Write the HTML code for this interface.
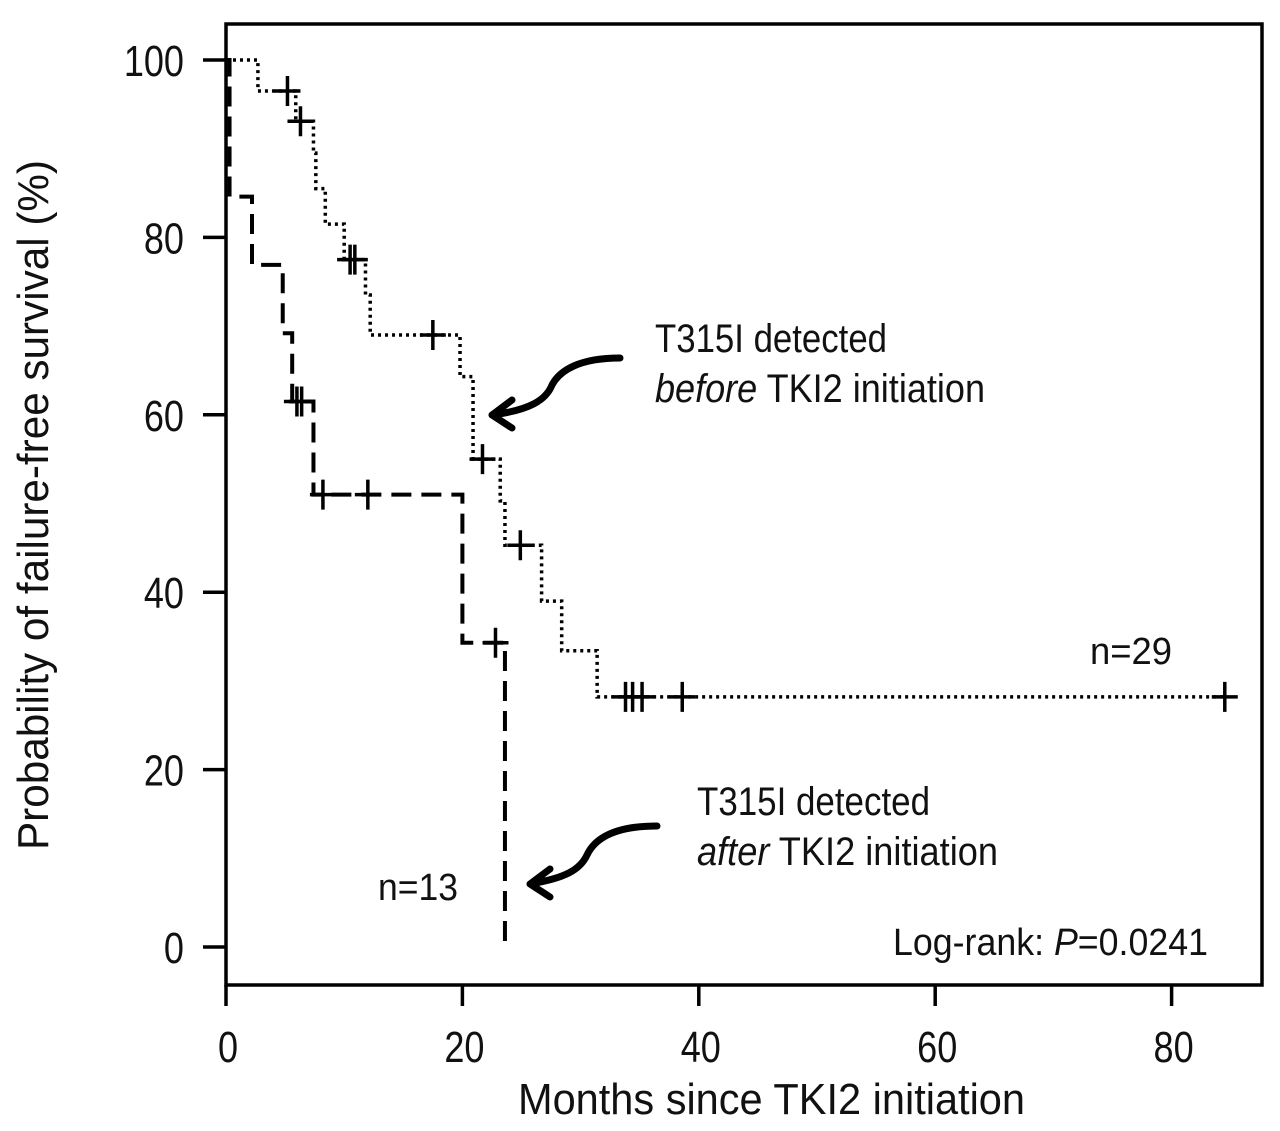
<!DOCTYPE html>
<html><head><meta charset="utf-8"><style>
html,body{margin:0;padding:0;background:#fff;}
svg{display:block;}
text{font-family:"Liberation Sans",sans-serif;fill:#111;}
</style></head><body>
<svg id="chart" width="1280" height="1131" viewBox="0 0 1280 1131" xmlns="http://www.w3.org/2000/svg">
<g id="axes"></g>
<g id="series"></g>
<g id="annot">
  <text x="655" y="352" font-size="40" textLength="232" lengthAdjust="spacingAndGlyphs">T315I detected</text>
  <text x="655" y="402" font-size="40" textLength="330" lengthAdjust="spacingAndGlyphs"><tspan font-style="italic">before</tspan> TKI2 initiation</text>
  <text x="697" y="815" font-size="40" textLength="233" lengthAdjust="spacingAndGlyphs">T315I detected</text>
  <text x="697" y="865" font-size="40" textLength="301" lengthAdjust="spacingAndGlyphs"><tspan font-style="italic">after</tspan> TKI2 initiation</text>
  <text x="1090" y="664" font-size="38" textLength="82" lengthAdjust="spacingAndGlyphs">n=29</text>
  <text x="378" y="900" font-size="38" textLength="80" lengthAdjust="spacingAndGlyphs">n=13</text>
  <text x="893" y="955" font-size="38" textLength="315" lengthAdjust="spacingAndGlyphs">Log-rank: <tspan font-style="italic">P</tspan>=0.0241</text>
  <path d="M620,358 C580,358 560,370 552,385 C546,400 530,410 492,415 M492,415 L512,400 M492,415 L512,428" fill="none" stroke="#000" stroke-width="7" stroke-linecap="round"/>
  <path d="M657,826 C615,826 595,838 587,855 C580,870 565,878 530,884 M530,884 L550,869 M530,884 L550,897" fill="none" stroke="#000" stroke-width="7" stroke-linecap="round"/>
</g>
</svg>
<script>
// Data
const beforeTimes = [0, 2.7, 5.9, 7.4, 7.6, 8.4, 10.0, 11.8, 12.2, 19.8, 20.9, 23.2, 23.6, 26.7, 28.4, 31.4];
const beforeSurv  = [100, 96.5, 93.1, 89.5, 85.5, 81.5, 77.5, 73.5, 69.0, 64.3, 55.0, 50.3, 45.3, 39.0, 33.4, 28.2];
const beforeEnd = 84.5;
const beforeCensor = [5.2, 6.3, 10.5, 10.9, 17.5, 21.7, 24.9, 33.8, 34.4, 35.2, 38.6, 84.5];
const afterTimes = [0, 0.3, 2.2, 4.8, 5.6, 7.4, 20.0, 23.6];
const afterSurv  = [100, 84.6, 76.9, 69.2, 61.5, 51.0, 34.3, 0];
const afterEnd = 23.6;
const afterCensor = [6.0, 6.4, 8.2, 12.0, 22.8];
const xTicks = [0, 20, 40, 60, 80];
const yTicks = [0, 20, 40, 60, 80, 100];

const NS = "http://www.w3.org/2000/svg";
const X = m => 226 + m * 11.82;
const Y = p => 947 - p * 8.87;
function mk(tag, attrs, parent){ const e=document.createElementNS(NS,tag); for(const k in attrs) e.setAttribute(k,attrs[k]); parent.appendChild(e); return e; }
const axes = document.getElementById('axes');
const series = document.getElementById('series');

const frame = mk('rect',{x:226,y:24,width:1036,height:961,fill:'none',stroke:'#000','stroke-width':3.5},axes);


yTicks.forEach(v=>{
  const t = mk('line',{x1:203,x2:226,y1:Y(v),y2:Y(v),stroke:'#000','stroke-width':3.5},axes);
  
  
  const l = mk('text',{transform:`translate(184,${Y(v)+16}) scale(0.82,1)`,'font-size':44,'text-anchor':'end'},axes);
  l.textContent = v;
  
  
});
xTicks.forEach(v=>{
  const t = mk('line',{x1:X(v),x2:X(v),y1:985,y2:1006,stroke:'#000','stroke-width':3.5},axes);
  
  
  const l = mk('text',{transform:`translate(${X(v)+2},1062) scale(0.82,1)`,'font-size':44,'text-anchor':'middle'},axes);
  l.textContent = v;
  
  
});
const xt = mk('text',{x:518,y:1114,'font-size':44,textLength:507,lengthAdjust:'spacingAndGlyphs'},axes);
xt.textContent = 'Months since TKI2 initiation';


const yt = mk('text',{x:0,y:0,'font-size':44,textLength:690,lengthAdjust:'spacingAndGlyphs',transform:'translate(48,850) rotate(-90)'},axes);
yt.textContent = 'Probability of failure-free survival (%)';



function stepPath(times, surv, end){
  let d = 'M'+X(times[0])+','+Y(surv[0]);
  for(let i=1;i<times.length;i++){ d += ' H'+X(times[i])+' V'+Y(surv[i]); }
  d += ' H'+X(end);
  return d;
}
function survAt(times, surv, t){ let s=surv[0]; for(let i=0;i<times.length;i++){ if(times[i]<=t) s=surv[i]; } return s; }

const pb = mk('path',{d:stepPath(beforeTimes,beforeSurv,beforeEnd),fill:'none',stroke:'#000','stroke-width':3.5,'stroke-dasharray':'3 4'},series);


const pa = mk('path',{d:stepPath(afterTimes,afterSurv,afterEnd),fill:'none',stroke:'#000','stroke-width':4,'stroke-dasharray':'20 10'},series);



function censor(t, s, name){
  const cx=X(t), cy=Y(s);
  const g = mk('path',{d:`M${cx-13},${cy} H${cx+13} M${cx},${cy-15} V${cy+15}`,stroke:'#000','stroke-width':3.5,fill:'none'},series);
  
  
}
beforeCensor.forEach(t=>censor(t, survAt(beforeTimes,beforeSurv,t), 'before-censor-mark'));
afterCensor.forEach(t=>censor(t, survAt(afterTimes,afterSurv,t), 'after-censor-mark'));
</script>
</body></html>
